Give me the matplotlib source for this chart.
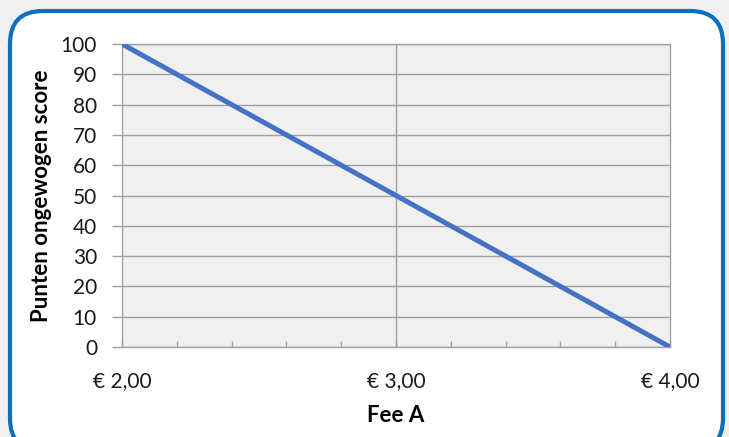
import matplotlib.pyplot as plt
from matplotlib.patches import FancyBboxPatch
from matplotlib.ticker import MultipleLocator, FixedLocator

fee = [2.0, 3.0, 4.0]
score = [100, 50, 0]
xtick_vals = [2.0, 3.0, 4.0]
xtick_labels = ['€ 2,00', '€ 3,00', '€ 4,00']

plt.rcParams['font.family'] = ['Lato', 'DejaVu Sans']

fig = plt.figure(figsize=(7.29, 4.37), dpi=100, facecolor='#f0f0f0')

# rounded white panel with blue border, bottom runs off the image
W, H = 729, 437
panel = FancyBboxPatch((10 / W, -14 / H), 713 / W, (H - 11 + 14) / H,
                       boxstyle='round,pad=0,rounding_size=0.045',
                       transform=fig.transFigure, facecolor='white',
                       edgecolor='#0a70c0', linewidth=3, zorder=-10,
                       mutation_aspect=W / H)
fig.patches.append(panel)

ax = fig.add_axes([122 / W, 1 - 347 / H, 548 / W, 303 / H])
ax.set_zorder(5)
ax.set_facecolor('#f0f0f0')
ax.plot(fee, score, color='#4472c4', linewidth=3.6, solid_capstyle='butt', zorder=3)

ax.set_xlim(2.0, 4.0)
ax.set_ylim(0, 100)
ax.yaxis.set_major_locator(MultipleLocator(10))
ax.xaxis.set_major_locator(FixedLocator(xtick_vals))
ax.set_xticklabels(xtick_labels)
ax.xaxis.set_minor_locator(MultipleLocator(0.2))

ax.grid(axis='y', color='#a0a0a0', linewidth=1)
ax.axvline(3.0, color='#a0a0a0', linewidth=1, zorder=1)

for s in ax.spines.values():
    s.set_color('#a0a0a0')
    s.set_linewidth(1)

ax.tick_params(axis='y', direction='out', length=7, width=1, color='#a0a0a0',
               labelsize=15, pad=11, labelcolor='#1a1a1a')
ax.tick_params(axis='x', which='both', direction='in', length=4, width=1,
               color='#a0a0a0', labelsize=15, pad=17, labelcolor='#1a1a1a')

ax.set_ylabel('Punten ongewogen score', fontsize=16, fontweight='bold', labelpad=6)
ax.set_xlabel('Fee A', fontsize=16, fontweight='bold', labelpad=10)

fig.savefig('out.png', dpi=100, facecolor=fig.get_facecolor())
